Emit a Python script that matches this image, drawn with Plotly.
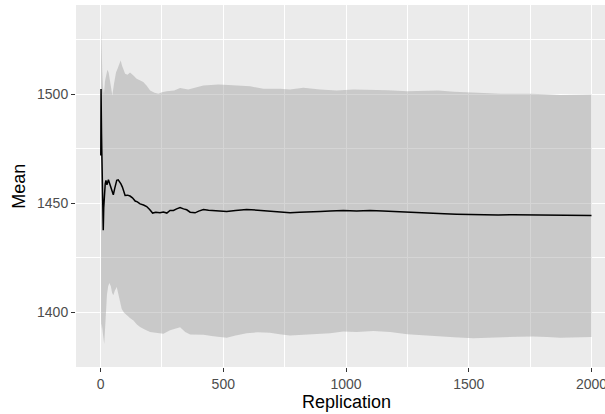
import plotly.graph_objects as go

# running mean of the replications
mean_rep = [1, 2, 3, 4, 5, 7, 9, 11, 13, 16, 19, 22, 26, 32, 36, 41, 46, 52, 58, 66, 72, 77, 83, 89, 95,
            100, 110, 120, 130, 141, 150, 161, 175, 188, 200, 212, 225, 242, 256, 270, 283, 297, 310,
            324, 338, 351, 365, 385, 400, 419, 440, 460, 480, 514, 550, 595, 640, 690, 730, 772, 810,
            853, 895, 935, 989, 1043, 1098, 1150, 1200, 1250, 1300, 1350, 1400, 1450, 1500, 1560,
            1620, 1680, 1750, 1810, 1870, 1930, 2000]
mean_val = [1472, 1502.5, 1492, 1482, 1475, 1462, 1447, 1437.7, 1448, 1455, 1459, 1460.6, 1458.5,
            1460.9, 1459.5, 1457.5, 1455, 1454, 1457, 1460.6, 1460.8, 1460.1, 1459, 1457.5, 1455.5,
            1453.7, 1453.8, 1453.4, 1452.6, 1451.1, 1450.7, 1449.8, 1449.3, 1448.6, 1447.2, 1445.6,
            1446, 1445.7, 1446.1, 1445.6, 1446.8, 1446.8, 1447.5, 1448.1, 1447.5, 1447.1, 1446,
            1445.7, 1446.5, 1447.2, 1446.9, 1446.8, 1446.5, 1446.3, 1446.8, 1447.2, 1446.9, 1446.5,
            1446.1, 1445.7, 1446, 1446, 1446.3, 1446.5, 1446.8, 1446.5, 1446.8, 1446.5, 1446.2,
            1446, 1445.8, 1445.6, 1445.3, 1445.1, 1444.9, 1444.6, 1444.7, 1444.8, 1444.7, 1444.6,
            1444.5, 1444.5, 1444.5]

# upper bound of the ribbon
up_rep = [2, 3, 4, 5, 7, 10, 14, 18, 22, 28, 33, 40, 48, 55, 63, 70, 76, 82, 88, 100, 110, 120, 135,
          147, 160, 174, 188, 202, 220, 236, 250, 270, 300, 324, 357, 380, 419, 450, 480, 520, 555,
          609, 663, 731, 772, 826, 894, 962, 1030, 1098, 1170, 1250, 1310, 1376, 1440, 1500, 1560,
          1627, 1700, 1750, 1810, 1872, 1940, 2000]
up_val = [1533, 1527, 1522, 1521, 1510, 1503, 1500, 1506, 1509, 1511.3, 1510, 1505, 1499.5, 1505,
          1510, 1512, 1514, 1515.6, 1513, 1509.5, 1509, 1510, 1508.5, 1507.2, 1506.5, 1505.7, 1504,
          1501.8, 1500.8, 1500.3, 1501, 1501.5, 1501.8, 1502.9, 1502.2, 1502.8, 1504.1, 1504.3,
          1504.6, 1504.3, 1504, 1503.7, 1502.6, 1502.6, 1502.2, 1503.1, 1502.3, 1501.8, 1502.2,
          1502.2, 1501.9, 1501.5, 1501.6, 1501.8, 1501.2, 1500.8, 1500.6, 1500.3, 1500.4, 1500.3,
          1500.1, 1499.7, 1499.9, 1500]

# lower bound of the ribbon
low_rep = [2, 3, 5, 8, 11, 15, 20, 26, 31, 36, 42, 47, 52, 58, 66, 72, 78, 86, 95, 107, 120, 134,
           148, 161, 180, 202, 230, 256, 283, 300, 324, 345, 365, 419, 460, 514, 550, 595, 640, 690,
           730, 772, 853, 935, 989, 1043, 1111, 1180, 1250, 1310, 1369, 1440, 1519, 1580, 1641,
           1700, 1763, 1820, 1872, 1940, 2000]
low_val = [1398, 1392, 1395, 1392, 1389, 1385.7, 1398, 1408, 1412, 1413.5, 1412, 1409, 1407.9,
           1410, 1411.7, 1410, 1406, 1401.7, 1400, 1398.6, 1397.5, 1396.3, 1394.5, 1393.3, 1392.2,
           1391, 1390.5, 1390.2, 1391.8, 1392.5, 1393.2, 1391, 1389.9, 1389.8, 1389.1, 1388.4,
           1389.5, 1390.5, 1390.9, 1390.7, 1390, 1389.4, 1389.9, 1390.5, 1391.3, 1391, 1391.5,
           1391, 1390, 1389.6, 1389, 1388.6, 1388.2, 1388.5, 1388.7, 1388.9, 1389, 1388.7,
           1388.4, 1388.6, 1388.7]

FONT = "Liberation Sans, Arial, sans-serif"

fig = go.Figure()
fig.add_trace(go.Scatter(
    x=up_rep + low_rep[::-1], y=up_val + low_val[::-1],
    fill="toself", fillcolor="rgba(150,150,150,0.4)",
    line=dict(width=0), mode="lines", hoverinfo="skip", showlegend=False))
fig.add_trace(go.Scatter(
    x=mean_rep, y=mean_val, mode="lines",
    line=dict(color="black", width=1.5), showlegend=False))

axis_common = dict(
    showgrid=True, gridcolor="white", gridwidth=1.4, zeroline=False,
    ticks="outside", ticklen=4, tickwidth=1.1, tickcolor="#333333",
    tickfont=dict(family=FONT, size=14, color="#4D4D4D"),
    showline=False, automargin=False, ticklabeloverflow="allow",
)
fig.update_xaxes(range=[-100, 2055], tick0=0, dtick=500,
                 minor=dict(showgrid=True, gridcolor="white", gridwidth=0.7, dtick=250, tick0=0),
                 **axis_common)
fig.update_yaxes(range=[1375, 1541], tick0=0, dtick=50,
                 minor=dict(showgrid=True, gridcolor="white", gridwidth=0.7, dtick=25, tick0=0),
                 **axis_common)

fig.add_annotation(text="Replication", xref="x", yref="paper", x=1000, y=-0.097,
                   showarrow=False, yanchor="middle",
                   font=dict(family=FONT, size=18, color="black"))
fig.add_annotation(text="Mean", xref="paper", yref="paper", x=-0.108, y=0.5,
                   showarrow=False, textangle=-90, xanchor="center", yanchor="middle",
                   font=dict(family=FONT, size=18, color="black"))

fig.update_layout(
    width=605, height=414,
    margin=dict(l=76, r=0, t=5, b=47, autoexpand=False),
    paper_bgcolor="white", plot_bgcolor="#EBEBEB",
    font=dict(family=FONT),
)
fig.write_html("out.html", config={"displayModeBar": False},
               post_script="document.body.style.margin='0';document.body.style.overflow='hidden';")
